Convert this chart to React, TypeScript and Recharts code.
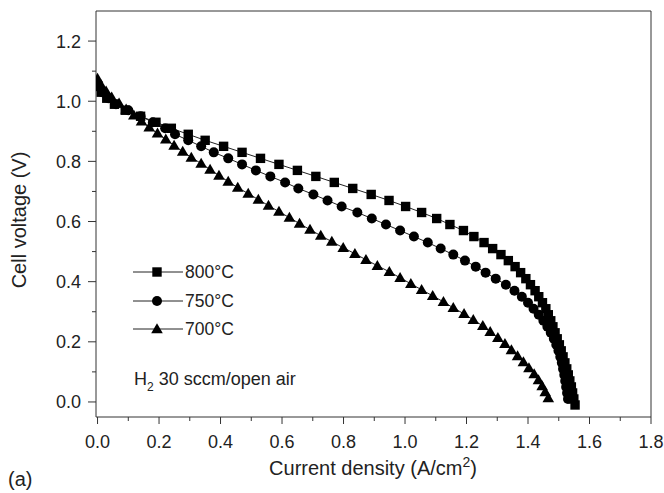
import React from "react";
import { LineChart, Line, XAxis, YAxis, Legend, ReferenceLine } from "recharts";

// current density (A/cm2) and cell voltage (V)
const I_800 = [
  0.0, 0.012, 0.03, 0.055, 0.09, 0.14, 0.19, 0.24, 0.295, 0.35, 0.41, 0.47, 0.53, 0.59,
  0.65, 0.71, 0.77, 0.83, 0.89, 0.948, 1.002, 1.054, 1.103, 1.146, 1.19, 1.224, 1.257,
  1.285, 1.312, 1.336, 1.358, 1.376, 1.393, 1.408, 1.423, 1.435, 1.447, 1.458, 1.466,
  1.474, 1.481, 1.488, 1.495, 1.502, 1.508, 1.514, 1.52, 1.526, 1.531, 1.536, 1.541,
  1.545, 1.549, 1.553,
];
const V_800 = [
  1.05, 1.03, 1.01, 0.99, 0.97, 0.95, 0.93, 0.91, 0.89, 0.87, 0.85, 0.83, 0.81, 0.79,
  0.77, 0.75, 0.73, 0.71, 0.69, 0.67, 0.65, 0.63, 0.61, 0.59, 0.57, 0.55, 0.53, 0.51,
  0.49, 0.47, 0.45, 0.43, 0.41, 0.39, 0.37, 0.35, 0.33, 0.31, 0.29, 0.27, 0.25, 0.23,
  0.21, 0.19, 0.17, 0.15, 0.13, 0.11, 0.09, 0.07, 0.05, 0.03, 0.01, -0.01,
];

const I_750 = [
  0.0, 0.015, 0.035, 0.06, 0.1, 0.14, 0.18, 0.22, 0.252, 0.295, 0.337, 0.378, 0.425,
  0.47, 0.515, 0.562, 0.61, 0.653, 0.702, 0.748, 0.794, 0.845, 0.892, 0.938, 0.984,
  1.029, 1.074, 1.116, 1.157, 1.195, 1.23, 1.262, 1.295, 1.328, 1.356, 1.38, 1.4, 1.418,
  1.435, 1.45, 1.463, 1.474, 1.484, 1.492, 1.499, 1.505, 1.51, 1.514, 1.518, 1.521,
  1.524, 1.527, 1.53,
];
const V_750 = [
  1.05, 1.03, 1.01, 0.99, 0.97, 0.95, 0.93, 0.91, 0.89, 0.87, 0.85, 0.83, 0.81, 0.79,
  0.77, 0.75, 0.73, 0.71, 0.69, 0.67, 0.65, 0.63, 0.61, 0.59, 0.57, 0.55, 0.53, 0.51,
  0.49, 0.47, 0.45, 0.43, 0.41, 0.39, 0.37, 0.35, 0.33, 0.31, 0.29, 0.27, 0.25, 0.23,
  0.21, 0.19, 0.17, 0.15, 0.13, 0.11, 0.09, 0.07, 0.05, 0.03, 0.01,
];

const I_700 = [
  0.0, 0.012, 0.028, 0.046, 0.07, 0.093, 0.118, 0.143, 0.168, 0.195, 0.222, 0.249,
  0.277, 0.305, 0.337, 0.366, 0.395, 0.425, 0.456, 0.49, 0.523, 0.556, 0.59, 0.624,
  0.657, 0.691, 0.726, 0.762, 0.799, 0.837, 0.873, 0.91, 0.949, 0.984, 1.019, 1.054,
  1.09, 1.125, 1.157, 1.192, 1.222, 1.253, 1.277, 1.302, 1.325, 1.346, 1.366, 1.385,
  1.403, 1.42, 1.434, 1.446, 1.456, 1.466,
];
const V_700 = [
  1.075, 1.053, 1.033, 1.013, 0.993, 0.973, 0.953, 0.933, 0.913, 0.893, 0.873, 0.853,
  0.833, 0.813, 0.793, 0.773, 0.753, 0.733, 0.713, 0.693, 0.673, 0.653, 0.633, 0.613,
  0.593, 0.573, 0.553, 0.533, 0.513, 0.493, 0.473, 0.453, 0.433, 0.413, 0.393, 0.373,
  0.353, 0.333, 0.313, 0.293, 0.273, 0.253, 0.233, 0.213, 0.193, 0.173, 0.153, 0.133,
  0.113, 0.093, 0.073, 0.053, 0.033, 0.013,
];

const SERIES_NAMES = ["800°C", "750°C", "700°C"];
const X_TICKS = [0, 0.1, 0.2, 0.3, 0.4, 0.5, 0.6, 0.7, 0.8, 0.9, 1.0, 1.1, 1.2, 1.3, 1.4, 1.5, 1.6, 1.7, 1.8];
const Y_TICKS = [0, 0.1, 0.2, 0.3, 0.4, 0.5, 0.6, 0.7, 0.8, 0.9, 1.0, 1.1, 1.2];

const FONT = "'Liberation Sans', Arial, sans-serif";
const INK = "#222";
const AXIS = "#333";

const toPoints = (xs: number[], ys: number[]) => xs.map((x, i) => ({ x, v: ys[i] }));
const d800 = toPoints(I_800, V_800);
const d750 = toPoints(I_750, V_750);
const d700 = toPoints(I_700, V_700);

type Shape = "square" | "circle" | "triangle";
const SHAPES: Shape[] = ["square", "circle", "triangle"];

function marker(shape: Shape, cx: number, cy: number, key?: string | number) {
  if (shape === "square")
    return <rect key={key} x={cx - 4.7} y={cy - 4.7} width={9.4} height={9.4} fill="#000" />;
  if (shape === "circle") return <circle key={key} cx={cx} cy={cy} r={5} fill="#000" />;
  return (
    <polygon
      key={key}
      points={`${cx},${cy - 5.8} ${cx + 5.8},${cy + 4.2} ${cx - 5.8},${cy + 4.2}`}
      fill="#000"
    />
  );
}

const dotFor = (shape: Shape) => (p: any) => marker(shape, p.cx, p.cy, p.key ?? `${p.index}`);

const isMajor = (v: number) => Math.round(v * 10) % 2 === 0;

const XTick = (p: any) => {
  const { x, y, payload } = p;
  const v = payload.value as number;
  const major = isMajor(v);
  return (
    <g>
      <line x1={x} y1={y} x2={x} y2={y + (major ? 7 : 4)} stroke={AXIS} />
      {major && (
        <text x={x} y={y + 31} textAnchor="middle" fontSize={18} fill={INK} fontFamily={FONT}>
          {v.toFixed(1)}
        </text>
      )}
    </g>
  );
};

const YTick = (p: any) => {
  const { x, y, payload } = p;
  const v = payload.value as number;
  const major = isMajor(v);
  return (
    <g>
      <line x1={x} y1={y} x2={x - (major ? 8 : 4)} y2={y} stroke={AXIS} />
      {major && (
        <text x={x - 15} y={y + 6.5} textAnchor="end" fontSize={18} fill={INK} fontFamily={FONT}>
          {v.toFixed(1)}
        </text>
      )}
    </g>
  );
};

const renderLegend = () => (
  <div style={{ fontFamily: FONT, fontSize: 17.5, color: INK }}>
    {SERIES_NAMES.map((name, i) => (
      <div key={name} style={{ display: "flex", alignItems: "center", height: 28.5 }}>
        <svg width={50} height={14} style={{ display: "block" }}>
          <line x1={0} y1={7} x2={50} y2={7} stroke={INK} strokeWidth={1} />
          {marker(SHAPES[i], 24, 7)}
        </svg>
        <span style={{ marginLeft: 2, lineHeight: "18px" }}>{name}</span>
      </div>
    ))}
  </div>
);

export default function App() {
  return (
    <div style={{ position: "absolute", left: 0, top: 0, width: 664, height: 493, background: "#fff" }}>
      <LineChart width={664} height={493} margin={{ top: 11, right: 13, left: 0, bottom: 0 }}>
        <XAxis
          type="number"
          dataKey="x"
          domain={[-0.005, 1.8]}
          ticks={X_TICKS}
          interval={0}
          allowDataOverflow
          height={76}
          tickSize={0}
          tickMargin={0}
          tickLine={false}
          tick={<XTick />}
          axisLine={{ stroke: AXIS }}
        />
        <YAxis
          type="number"
          domain={[-0.05, 1.3]}
          ticks={Y_TICKS}
          interval={0}
          allowDataOverflow
          width={96}
          tickSize={0}
          tickMargin={0}
          tickLine={false}
          tick={<YTick />}
          axisLine={{ stroke: AXIS }}
        />
        <ReferenceLine y={1.3} stroke={AXIS} />
        <ReferenceLine x={1.8} stroke={AXIS} />
        <Legend
          layout="horizontal"
          verticalAlign="middle"
          align="center"
          content={renderLegend}
          wrapperStyle={{ left: 133, top: 258, width: 130, height: 90 }}
        />
        <Line data={d800} dataKey="v" name={SERIES_NAMES[0]} type="linear" stroke={INK} strokeWidth={1}
          dot={dotFor("square")} activeDot={false} isAnimationActive={false} />
        <Line data={d750} dataKey="v" name={SERIES_NAMES[1]} type="linear" stroke={INK} strokeWidth={1}
          dot={dotFor("circle")} activeDot={false} isAnimationActive={false} />
        <Line data={d700} dataKey="v" name={SERIES_NAMES[2]} type="linear" stroke={INK} strokeWidth={1}
          dot={dotFor("triangle")} activeDot={false} isAnimationActive={false} />
      </LineChart>
      <svg
        width={664}
        height={493}
        style={{ position: "absolute", left: 0, top: 0, pointerEvents: "none" }}
        fontFamily={FONT}
        fill={INK}
      >
        <text x={26} y={220} fontSize={20} textAnchor="middle" transform="rotate(-90 26 220)">
          Cell voltage (V)
        </text>
        <text x={373} y={475} fontSize={20} textAnchor="middle">
          Current density (A/cm<tspan dy={-8} fontSize={14}>2</tspan><tspan dy={8}>)</tspan>
        </text>
        <text x={8} y={486} fontSize={20}>(a)</text>
        <text x={134} y={385} fontSize={18}>
          H<tspan dy={6} fontSize={12}>2</tspan><tspan dy={-6}> 30 sccm/open air</tspan>
        </text>
      </svg>
    </div>
  );
}
